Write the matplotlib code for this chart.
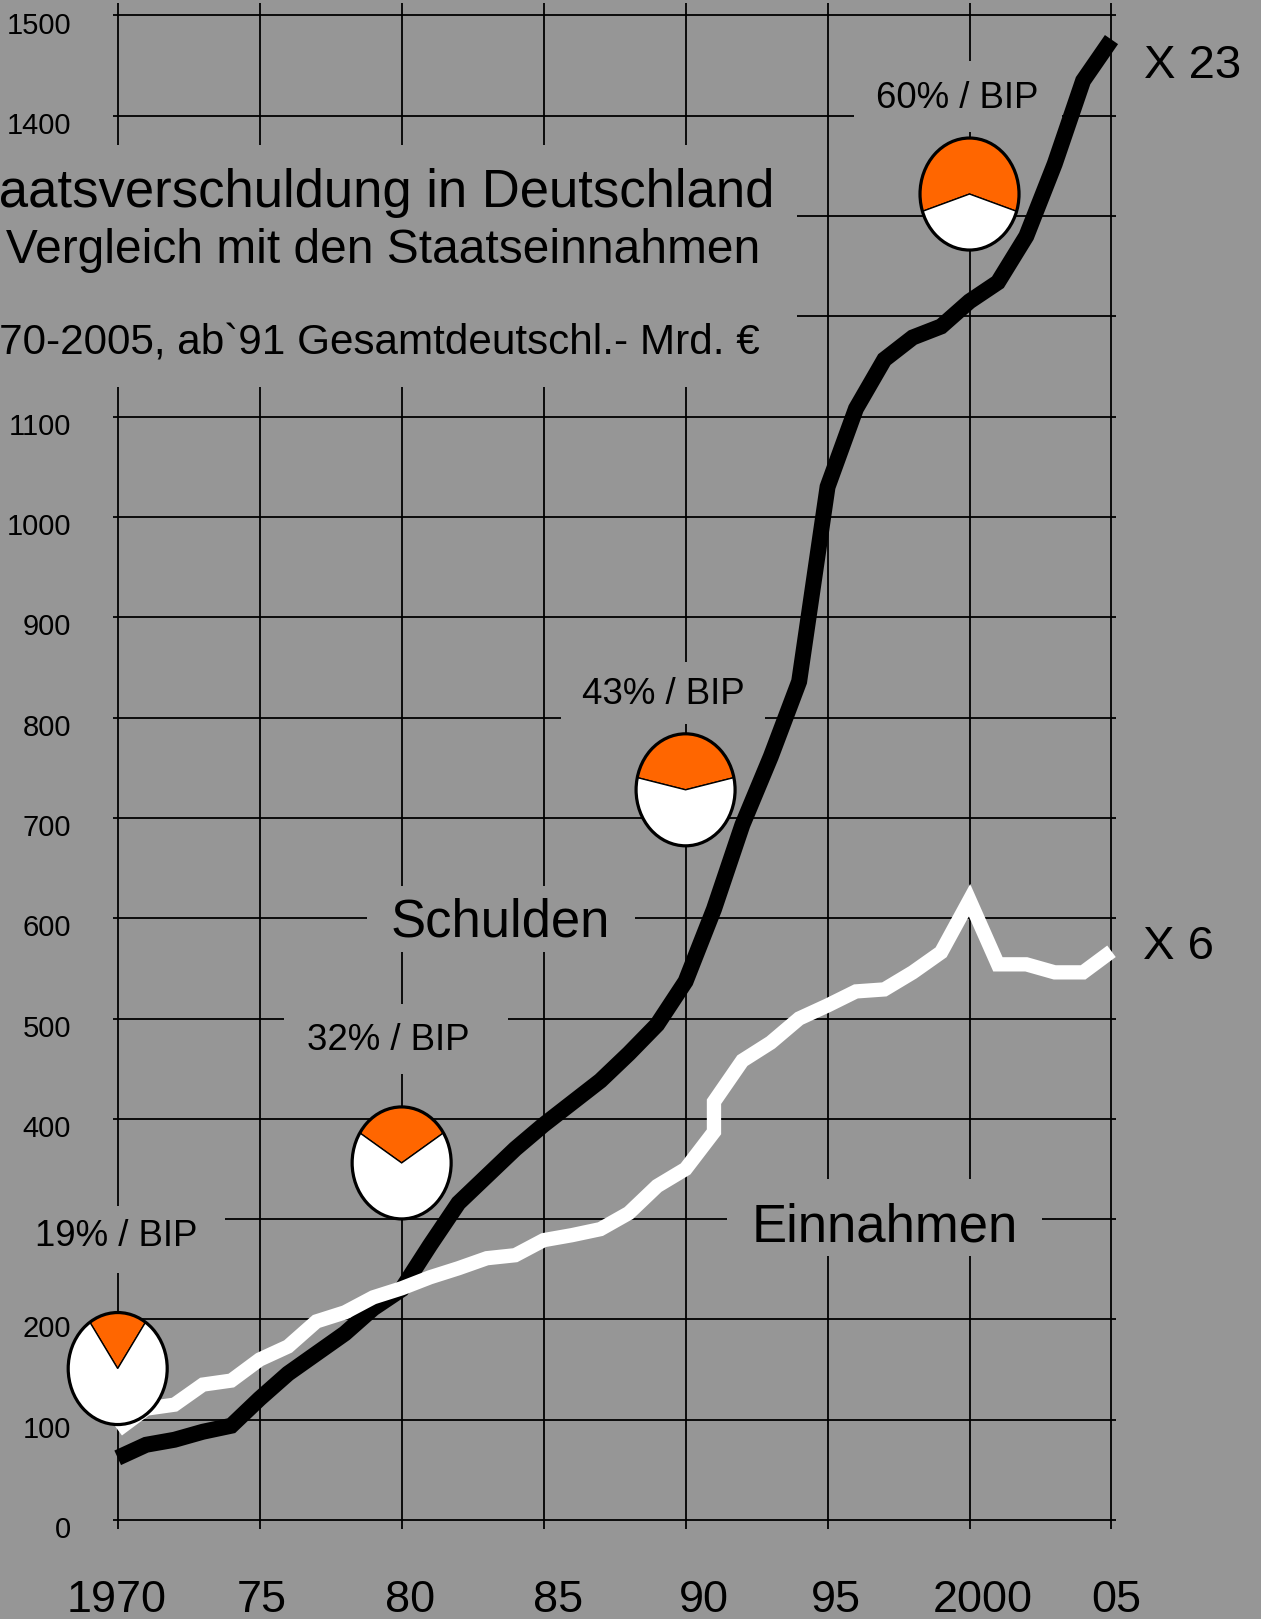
import matplotlib
matplotlib.use('Agg')
import matplotlib.pyplot as plt
from matplotlib.patches import Rectangle, Ellipse

plt.rcParams['font.family'] = ['Liberation Sans', 'DejaVu Sans']

# ---------------- data ----------------
years = list(range(1970, 2006))
schulden = [62, 75, 80, 88, 94, 121, 146, 166, 186, 211, 230, 274, 316, 343,
            370, 394, 416, 438, 465, 494, 537, 609, 693, 761, 836, 1030, 1108,
            1157, 1179, 1190, 1215, 1234, 1280, 1352, 1435, 1476]

# 1991 appears twice: West Germany, then unified Germany
rev_years = list(range(1970, 1992)) + list(range(1991, 2006))
einnahmen = [90, 111, 115, 135, 139, 160, 173, 198, 207, 222, 231, 242, 251,
             261, 264, 279, 284, 290, 306, 333, 350,
             387, 417,
             458, 476, 500, 513, 527, 529, 546, 566, 618, 554, 554, 546, 546, 567]

pie_years = [1970, 1980, 1990, 2000]
pie_pct = [19, 32, 43, 60]
pie_val = [151, 356, 728, 1322]
pie_labels = ['19% / BIP', '32% / BIP', '43% / BIP', '60% / BIP']

grid_values = list(range(0, 1600, 100))
# labels that are visible (300, 1200, 1300 are covered by text boxes)
y_label_values = [0, 100, 200, 400, 500, 600, 700, 800, 900, 1000, 1100, 1400, 1500]
x_grid = list(range(1970, 2006, 5))
x_tick_labels = ['1970', '75', '80', '85', '90', '95', '2000', '05']
x_tick_pos = [1969.97, 1975.08, 1980.28, 1985.5, 1990.63, 1995.3, 2000.46, 2005.16]

title_lines = ['Staatsverschuldung in Deutschland',
               'im Vergleich mit den Staatseinnahmen',
               '1970-2005, ab`91 Gesamtdeutschl.- Mrd. €']

BG = '#969696'
ORANGE = '#FF6600'

# ---------------- figure ----------------
W, H = 1261, 1619
fig = plt.figure(figsize=(W / 100, H / 100), dpi=100)
fig.patch.set_facecolor(BG)
ax = fig.add_axes([0, 0, 1, 1])
ax.set_axis_off()

SX = 28.394           # px per year
X0 = 1970 - 117.7 / SX
SY = 1.003            # px per unit
Y_TOP = 1520 / SY
ax.set_xlim(X0, X0 + W / SX)
ax.set_ylim(Y_TOP - H / SY, Y_TOP)


def X(px):
    return X0 + px / SX


def Y(py):
    return (1520 - py) / SY


# grid
ax.hlines(grid_values, 1969.85, 2005.15, color='black', lw=1.3, zorder=1)
ax.vlines(x_grid, -9, 1512, color='black', lw=1.3, zorder=1)

# y tick labels
for v in y_label_values:
    ax.text(X(71), v - 18, str(v), ha='right', va='baseline', fontsize=21,
            color='black', zorder=1.5)

# x tick labels
for lab, pos in zip(x_tick_labels, x_tick_pos):
    ax.text(pos, Y(1612), lab, ha='center', va='baseline', fontsize=32.4,
            color='black', zorder=6)

# title
t1 = ax.text(X(774), Y(206.5), title_lines[0], ha='right', va='baseline',
             fontsize=37.9, zorder=6)
t2 = ax.text(X(760), Y(263), title_lines[1], ha='right', va='baseline',
             fontsize=34.5, zorder=6)
t3 = ax.text(X(760), Y(355), title_lines[2], ha='right', va='baseline',
             fontsize=30.4, zorder=6)

# series labels
ts = ax.text(X(500), Y(937), 'Schulden', ha='center', va='baseline',
             fontsize=37.9, zorder=6)
te = ax.text(X(884.5), Y(1241), 'Einnahmen', ha='center', va='baseline',
             fontsize=37.9, zorder=6)
ax.text(X(1143.6), Y(78), 'X 23', ha='left', va='baseline', fontsize=34, zorder=6)
ax.text(X(1143), Y(959), 'X 6', ha='left', va='baseline', fontsize=34, zorder=6)

# pie labels
pie_lab_pos = [(116, 1245.5), (388, 1050), (663, 704), (956.7, 108)]
pie_texts = []
for lab, (px, py) in zip(pie_labels, pie_lab_pos):
    pie_texts.append(ax.text(X(px), Y(py), lab, ha='center', va='baseline',
                             fontsize=26.4, zorder=6))

# lines
ax.plot(years, schulden, color='black', lw=11.5, solid_joinstyle='miter',
        solid_capstyle='butt', zorder=3)
ax.plot(rev_years, einnahmen, color='white', lw=10.3, solid_joinstyle='miter',
        solid_capstyle='butt', zorder=3.2)

# pies
for yr, pct, yv in zip(pie_years, pie_pct, pie_val):
    k = 1.06
    w = 99 / SX * k
    h = 112 / SY * k
    ins = ax.inset_axes([yr - w / 2, yv - h / 2, w, h], transform=ax.transData,
                        zorder=4)
    ins.pie([pct, 100 - pct], colors=[ORANGE, 'white'],
            startangle=90 - pct * 1.8, counterclock=True,
            wedgeprops=dict(edgecolor='black', linewidth=1.0))
    ins.add_patch(Ellipse((0, 0), 2, 2, fill=False, edgecolor='black', lw=2.3))
    ins.set_xlim(-k, k)
    ins.set_ylim(-k, k)
    ins.set_aspect('auto')
    ins.axis('off')

# background boxes behind the texts (hide the grid)
fig.canvas.draw()
r = fig.canvas.get_renderer()
inv = ax.transData.inverted()


def add_box(x0d, x1d, y0d, y1d):
    (a, b) = inv.transform((x0d, y0d))
    (c, d) = inv.transform((x1d, y1d))
    ax.add_patch(Rectangle((a, b), c - a, d - b, facecolor=BG, edgecolor='none',
                           zorder=2))


def occlude(t, pl, pr, up, down, left_edge=False):
    bb = t.get_window_extent(r)
    by = ax.transData.transform(t.get_position())[1]
    x0d = -5 if left_edge else bb.x0 - pl
    add_box(x0d, bb.x1 + pr, by - down, by + up)


occlude(pie_texts[0], 0, 28, 39, 28, left_edge=True)
occlude(pie_texts[1], 23, 39, 46, 24)
occlude(pie_texts[2], 21, 21, 42, 20)
occlude(pie_texts[3], 22, 24, 47, 24)
occlude(ts, 23, 25, 51, 15)
occlude(te, 24.6, 24.4, 62, 15)

# title box
bb1 = t1.get_window_extent(r)
by1 = ax.transData.transform(t1.get_position())[1]
by3 = ax.transData.transform(t3.get_position())[1]
add_box(-5, bb1.x1 + 23, by3 - 32, by1 + 61.5)

fig.savefig('out.png', dpi=100, facecolor=BG)
